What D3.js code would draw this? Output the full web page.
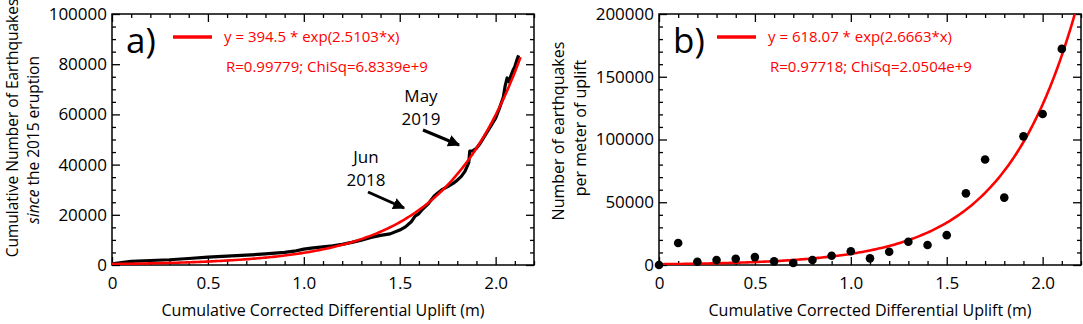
<!DOCTYPE html>
<html>
<head>
<meta charset="utf-8">
<script src="https://cdn.jsdelivr.net/npm/d3@7"></script>
<style>
  body { margin: 0; background: #fff; }
  svg text { font-family: "Open Sans", "Liberation Sans", sans-serif; }
</style>
</head>
<body>
<div id="app"></div>
<script>
// panel a: cumulative earthquakes vs uplift
var upliftA = [0, 0.02, 0.05, 0.1, 0.2, 0.3, 0.4, 0.5, 0.6, 0.7, 0.8, 0.9, 0.95, 1.0, 1.05, 1.1, 1.15, 1.2, 1.25, 1.3,
  1.35, 1.4, 1.45, 1.5, 1.53, 1.56, 1.58, 1.6, 1.62, 1.65, 1.68, 1.7, 1.72, 1.75, 1.78, 1.8, 1.82, 1.84, 1.86, 1.865,
  1.88, 1.9, 1.92, 1.94, 1.96, 1.98, 2.0, 2.02, 2.04, 2.05, 2.06, 2.07, 2.08, 2.09, 2.1, 2.11, 2.12]
var quakesA = [300, 700, 1000, 1450, 1800, 2100, 2600, 3100, 3500, 3900, 4400, 5000, 5500, 6300, 6800, 7200, 7600, 8200, 9000, 9900,
  11000, 11800, 12400, 13900, 15200, 17200, 19500, 20500, 22300, 24500, 27500, 28800, 30000, 31200, 32600, 33800, 35200, 37300, 40800, 45400,
  45500, 46500, 48500, 51000, 53500, 56000, 58500, 62500, 66800, 71500, 74500, 73000, 75500, 77500, 79000, 81500, 83500]

// panel b: earthquakes per meter of uplift, binned every 0.1 m
var upliftB = [0, 0.1, 0.2, 0.3, 0.4, 0.5, 0.6, 0.7, 0.8, 0.9, 1.0, 1.1, 1.2, 1.3, 1.4, 1.5, 1.6, 1.7, 1.8, 1.9, 2.0, 2.1]
var quakesB = [0, 17500, 2600, 4000, 5000, 6300, 2900, 1600, 4000, 7400, 10900, 5300, 10600, 18500, 15900, 23800,
  57100, 84100, 53700, 102500, 120300, 172200]

// fit coefficients as printed in the legends: y = A * exp(B*x)
var fitA = [394.5, 2.5103]
var fitB = [618.07, 2.6663]
var fitLabels = [
  ["y = 394.5 * exp(2.5103*x)", "R=0.99779; ChiSq=6.8339e+9"],
  ["y = 618.07 * exp(2.6663*x)", "R=0.97718; ChiSq=2.0504e+9"]
]

var xMajor = [0, 0.5, 1.0, 1.5, 2.0]
var yMajorA = [0, 20000, 40000, 60000, 80000, 100000]
var yMajorB = [0, 50000, 100000, 150000, 200000]

var width = 1083, height = 324

var svg = d3.select("#app")
  .append("svg")
  .attr("width", width)
  .attr("height", height)

var defs = svg.append("defs")
defs.append("marker")
  .attr("id", "head")
  .attr("viewBox", "0 0 10 10")
  .attr("refX", 9)
  .attr("refY", 5)
  .attr("markerWidth", 4)
  .attr("markerHeight", 4)
  .attr("orient", "auto")
  .append("path")
  .attr("d", "M0,0L10,5L0,10z")
  .attr("fill", "#000")

function drawPanel(p) {
  var x = d3.scaleLinear().domain([0, 2.2]).range([p.left, p.right])
  var y = d3.scaleLinear().domain([0, p.yMax]).range([p.bottom, p.top])
  var g = svg.append("g")

  var xMinor = d3.range(0, 23).map(d => d / 10).filter(d => Math.round(d * 10) % 5 != 0)
  var yMinor = d3.range(0, p.yMax + 1, p.yMinorStep).filter(d => d % p.yMajorStep != 0)
  var fmtX = d => d == 0 ? "0" : d3.format(".1f")(d)

  // ticks point inward on all four sides
  var axes = [
    [d3.axisBottom(x).tickValues(xMajor).tickSize(-8).tickPadding(12).tickFormat(fmtX), "translate(0," + p.bottom + ")"],
    [d3.axisBottom(x).tickValues(xMinor).tickSize(-4).tickFormat(""), "translate(0," + p.bottom + ")"],
    [d3.axisTop(x).tickValues(xMajor).tickSize(-8).tickFormat(""), "translate(0," + p.top + ")"],
    [d3.axisTop(x).tickValues(xMinor).tickSize(-4).tickFormat(""), "translate(0," + p.top + ")"],
    [d3.axisLeft(y).tickValues(p.yMajor).tickSize(-8).tickPadding(5).tickFormat(d3.format("d")), "translate(" + p.left + ",0)"],
    [d3.axisLeft(y).tickValues(yMinor).tickSize(-4).tickFormat(""), "translate(" + p.left + ",0)"],
    [d3.axisRight(y).tickValues(p.yMajor).tickSize(-8).tickFormat(""), "translate(" + p.right + ",0)"],
    [d3.axisRight(y).tickValues(yMinor).tickSize(-4).tickFormat(""), "translate(" + p.right + ",0)"]
  ]
  axes.forEach(a => {
    var ax = g.append("g").attr("transform", a[1]).call(a[0])
    ax.select(".domain").remove()
    ax.selectAll("line").attr("stroke", "#000").attr("stroke-width", 1.3)
    ax.selectAll("text").attr("font-size", 17).attr("fill", "#000")
  })

  g.append("rect")
    .attr("x", p.left).attr("y", p.top)
    .attr("width", p.right - p.left).attr("height", p.bottom - p.top)
    .attr("fill", "none").attr("stroke", "#000").attr("stroke-width", 1.5)

  var clipId = "clip" + p.name
  defs.append("clipPath").attr("id", clipId)
    .append("rect")
    .attr("x", p.left).attr("y", p.top)
    .attr("width", p.right - p.left).attr("height", p.bottom - p.top)

  var plot = g.append("g").attr("clip-path", "url(#" + clipId + ")")

  if (p.line) {
    plot.append("path")
      .datum(d3.zip(p.xs, p.ys))
      .attr("fill", "none")
      .attr("stroke", "#000")
      .attr("stroke-width", 3.2)
      .attr("stroke-linejoin", "round")
      .attr("d", d3.line().x(d => x(d[0])).y(d => y(d[1])))
  }

  // fitted exponential
  var fx = d3.range(0, p.fitEnd + 0.001, 0.01)
  plot.append("path")
    .datum(fx)
    .attr("fill", "none")
    .attr("stroke", "#ff0000")
    .attr("stroke-width", 2.6)
    .attr("d", d3.line().x(d => x(d)).y(d => y(p.fit[0] * Math.exp(p.fit[1] * d))))

  if (!p.line) {
    g.selectAll(".dot" + p.name)
      .data(d3.zip(p.xs, p.ys))
      .enter()
      .append("circle")
      .attr("cx", d => x(d[0]))
      .attr("cy", d => y(d[1]))
      .attr("r", 4.3)
      .attr("fill", "#000")
  }

  // panel letter and legend
  g.append("text")
    .attr("x", p.left + 14).attr("y", 53)
    .attr("font-size", 35)
    .text(p.name + ")")

  g.append("line")
    .attr("x1", p.left + p.legendDx).attr("x2", p.left + p.legendDx + 39)
    .attr("y1", 37).attr("y2", 37)
    .attr("stroke", "#ff0000").attr("stroke-width", 3.5)

  g.selectAll(".fitlab" + p.name)
    .data(p.labels)
    .enter()
    .append("text")
    .attr("x", (d, i) => p.left + p.legendDx + 51 + i * 2)
    .attr("y", (d, i) => 42 + i * 30)
    .attr("font-size", 15)
    .attr("fill", "#ff0000")
    .text(d => d)

  g.append("text")
    .attr("x", (p.left + p.right) / 2)
    .attr("y", 316)
    .attr("text-anchor", "middle")
    .attr("font-size", 16)
    .text("Cumulative Corrected Differential Uplift (m)")

  return { x: x, y: y }
}

drawPanel({
  name: "a", left: 112, right: 534, top: 14, bottom: 265,
  yMax: 100000, yMajor: yMajorA, yMajorStep: 20000, yMinorStep: 5000,
  xs: upliftA, ys: quakesA, line: true,
  fit: fitA, fitEnd: 2.135, labels: fitLabels[0], legendDx: 61
})

drawPanel({
  name: "b", left: 659, right: 1081, top: 14, bottom: 265,
  yMax: 200000, yMajor: yMajorB, yMajorStep: 50000, yMinorStep: 10000,
  xs: upliftB, ys: quakesB, line: false,
  fit: fitB, fitEnd: 2.2, labels: fitLabels[1], legendDx: 58
})

// y axis titles
svg.append("text")
  .attr("transform", "translate(18,128) rotate(-90)")
  .attr("text-anchor", "middle")
  .attr("font-size", 15.5)
  .text("Cumulative Number of Earthquakes")

var tb = svg.append("text")
  .attr("transform", "translate(39,140) rotate(-90)")
  .attr("text-anchor", "middle")
  .attr("font-size", 15.5)
tb.append("tspan").attr("font-style", "italic").text("since")
tb.append("tspan").text(" the 2015 eruption")

svg.append("text")
  .attr("transform", "translate(564,131) rotate(-90)")
  .attr("text-anchor", "middle")
  .attr("font-size", 16)
  .text("Number of earthquakes")

svg.append("text")
  .attr("transform", "translate(586,128) rotate(-90)")
  .attr("text-anchor", "middle")
  .attr("font-size", 16)
  .text("per meter of uplift")

// annotations with arrows
var notes = [
  { lines: ["Jun", "2018"], x: 366, y: 163, from: [368, 192], to: [404, 208] },
  { lines: ["May", "2019"], x: 421, y: 102, from: [423, 130], to: [459, 145] }
]
notes.forEach(n => {
  n.lines.forEach((t, i) => {
    svg.append("text")
      .attr("x", n.x).attr("y", n.y + i * 23)
      .attr("text-anchor", "middle")
      .attr("font-size", 17)
      .text(t)
  })
  svg.append("line")
    .attr("x1", n.from[0]).attr("y1", n.from[1])
    .attr("x2", n.to[0]).attr("y2", n.to[1])
    .attr("stroke", "#000")
    .attr("stroke-width", 3)
    .attr("marker-end", "url(#head)")
})
</script>
</body>
</html>
